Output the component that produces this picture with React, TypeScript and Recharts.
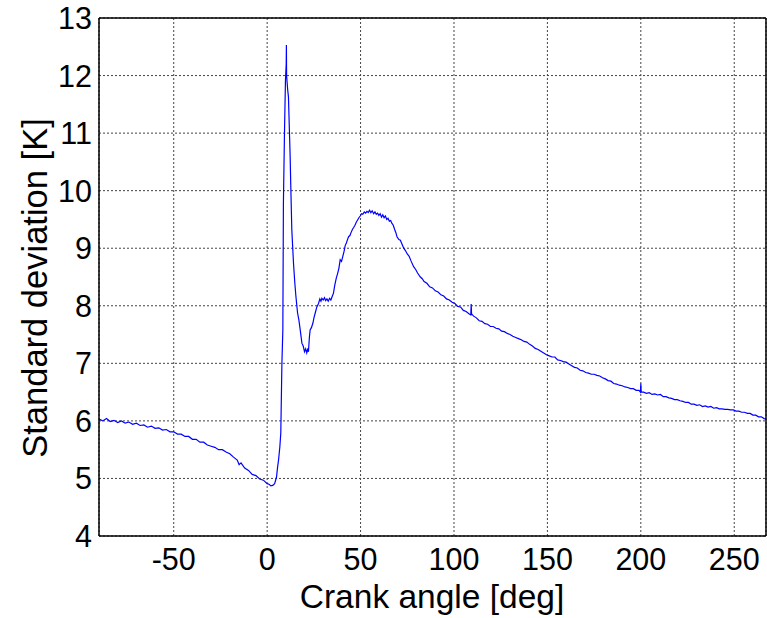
import React from "react";
import { LineChart, Line, XAxis, YAxis, CartesianGrid } from "recharts";

const angleLeft = [-90,-88,-86,-84,-82,-80,-78,-76,-74,-72,-70,-68,-66,-64,-62,-60,-58,-56,-54,-52,-50,-48,-46,-44,-42,-40,-38,-36,-34,-32,-30,-28,-26,-24,-22,-20,-18,-16,-15,-14,-12,-10,-8,-6,-4,-2,0,1,2,3,4];
const stdLeft = [6.03,6.00,6.04,5.99,6.01,5.97,6.00,5.96,5.98,5.94,5.96,5.92,5.93,5.89,5.91,5.87,5.88,5.84,5.85,5.81,5.81,5.77,5.77,5.73,5.73,5.68,5.68,5.63,5.63,5.58,5.56,5.54,5.50,5.50,5.46,5.43,5.37,5.32,5.24,5.27,5.18,5.14,5.07,5.05,4.99,4.97,4.91,4.90,4.87,4.88,4.91];

const anglePeak = [5,5.6,6.1,6.8,7.3,7.7,7.9,8.4,8.7,9.3,9.8,10.2,10.3,10.4,11.0,11.4,12.0,12.3,12.7,13.2,14.1,14.8,15.4,16.3,17.0,17.7,18.6,19.3,20.0,20.6,21.2,21.8,22.1,22.6,23.0,23.7,24.5,25.1,25.7,26.6,27.5,28.2,28.8,29.3,30,30.7,31.3,32,32.7,33.4,34.1,34.8,35.5,36.2,37,37.7,38.4,39.1,39.8,40.5,41.2,41.8,42.4,43,43.6,44.3,45,45.7,46.3,47,47.7,48.4,49.1,49.8,50.5,51.2,52,52.7,53.4,54.1,54.8,55.5,56.2,57,57.7,58.4,59.1,59.8,60.5,61.2,61.9,62.6,63.3,64,64.7,65.4,66.1,66.8,67.5,68.2,68.9,69.5];
const stdPeak = [5.02,5.20,5.32,5.55,5.79,6.6,7.0,7.58,9.78,11.05,11.92,12.2,12.53,12.0,11.75,11.63,10.94,10.6,10.01,9.32,8.74,8.40,8.16,7.87,7.75,7.58,7.35,7.30,7.20,7.25,7.18,7.26,7.20,7.45,7.58,7.62,7.70,7.80,7.87,7.98,8.04,8.12,8.08,8.13,8.10,8.14,8.09,8.12,8.08,8.13,8.10,8.16,8.22,8.36,8.48,8.56,8.65,8.80,8.77,8.86,8.95,9.05,9.09,9.15,9.20,9.22,9.28,9.33,9.36,9.40,9.45,9.49,9.53,9.56,9.60,9.59,9.63,9.61,9.64,9.62,9.66,9.62,9.65,9.60,9.63,9.59,9.61,9.57,9.60,9.54,9.58,9.53,9.56,9.50,9.52,9.47,9.48,9.43,9.40,9.33,9.27,9.20];

const angleTail = [70.5,71.3,72.2,73.1,74,75,76,77,78.4,79.5,80.5,82,83,84,85.5,87,88.5,90,91.5,93,94.5,96,97.5,99,100.5,102,103.5,105,106.5,108,109,109.2,109.4,110.5,112,113.5,115,116.5,118,119.5,121,122.5,124,125.5,127,128.5,130,131.5,133,134.5,136,137.5,139,140.5,142,143.5,145,146.5,148,149.5,151,152.5,154,155.5,157,158.5,160,161.5,163,164.5,166,167.5,169,170.5,172,173.5,175,176.5,178,179.5,181,182.5,184,185.5,187,188.5,190,191.5,193,194.5,196,197.5,199,199.8,200,200.2,201.5,203,204.5,206,207.5,209,210.5,212,213.5,215,216.5,218,219.5,221,222.5,224,225.5,227,228.5,230,231.5,233,234.5,236,237.5,239,240.5,242,243.5,245,246.5,248,249.5,251,252.5,254,255.5,257,258.5,260,261.5,263,264.5,266,267];
const stdTail = [9.15,9.14,9.07,9.00,8.96,8.90,8.86,8.78,8.68,8.63,8.57,8.50,8.47,8.42,8.39,8.33,8.31,8.26,8.24,8.19,8.17,8.12,8.10,8.06,8.04,7.99,7.98,7.92,7.90,7.86,7.84,8.03,7.86,7.82,7.79,7.74,7.73,7.69,7.68,7.64,7.64,7.61,7.60,7.56,7.55,7.52,7.50,7.47,7.45,7.43,7.41,7.38,7.37,7.33,7.30,7.26,7.24,7.21,7.18,7.15,7.13,7.11,7.11,7.06,7.05,7.03,7.02,6.99,6.96,6.93,6.92,6.88,6.87,6.84,6.83,6.81,6.81,6.79,6.78,6.75,6.73,6.70,6.69,6.65,6.64,6.62,6.61,6.59,6.58,6.56,6.56,6.53,6.53,6.50,6.65,6.50,6.50,6.48,6.49,6.46,6.47,6.45,6.46,6.42,6.42,6.40,6.39,6.37,6.37,6.35,6.34,6.32,6.32,6.29,6.29,6.27,6.28,6.25,6.26,6.24,6.25,6.22,6.23,6.21,6.21,6.20,6.20,6.19,6.19,6.17,6.17,6.15,6.15,6.13,6.13,6.10,6.10,6.07,6.07,6.04,6.03];

const xTicks = [-50, 0, 50, 100, 150, 200, 250];
const yTicks = [4, 5, 6, 7, 8, 9, 10, 11, 12, 13];
const xLabel = "Crank angle [deg]";
const yLabel = "Standard deviation [K]";

const angles = [...angleLeft, ...anglePeak, ...angleTail];
const stds = [...stdLeft, ...stdPeak, ...stdTail];
const data = angles.map((a, i) => ({ angle: a, std: stds[i] }));

const FONT = "'Liberation Sans', Arial, sans-serif";

const XTick = (props: any) => {
  const { x, payload } = props;
  return (
    <text x={x} y={570} textAnchor="middle" fontSize={30.5} fontFamily={FONT} fill="#000">
      {payload.value}
    </text>
  );
};

const YTick = (props: any) => {
  const { y, payload } = props;
  return (
    <text x={92} y={y + 11} textAnchor="end" fontSize={30.5} fontFamily={FONT} fill="#000">
      {payload.value}
    </text>
  );
};

export default function App() {
  return (
    <div style={{ position: "absolute", left: 0, top: 0, width: 767, height: 618, background: "#fff" }}>
      <LineChart
        width={767}
        height={618}
        data={data}
        margin={{ top: 0, right: 0, bottom: 0, left: 0 }}
      >
        <CartesianGrid stroke="#444" strokeDasharray="2 2" strokeWidth={1} />
        <XAxis
          dataKey="angle"
          type="number"
          domain={[-90, 267]}
          ticks={xTicks}
          height={82}
          tickLine={false}
          axisLine={{ stroke: "#000", strokeWidth: 1.5 }}
          tick={<XTick />}
          interval={0}
          allowDataOverflow
        />
        <XAxis
          xAxisId="t"
          orientation="top"
          dataKey="angle"
          type="number"
          domain={[-90, 267]}
          ticks={xTicks}
          height={18}
          tick={false}
          tickLine={false}
          axisLine={{ stroke: "#000", strokeWidth: 1.5 }}
          allowDataOverflow
        />
        <YAxis
          type="number"
          domain={[4, 13]}
          ticks={yTicks}
          width={99}
          tickLine={false}
          axisLine={{ stroke: "#000", strokeWidth: 1.5 }}
          tick={<YTick />}
          interval={0}
          allowDataOverflow
        />
        <YAxis
          yAxisId="r"
          orientation="right"
          type="number"
          domain={[4, 13]}
          ticks={yTicks}
          width={1}
          tick={false}
          tickLine={false}
          axisLine={{ stroke: "#000", strokeWidth: 1.5 }}
          allowDataOverflow
        />
        <Line
          dataKey="std"
          type="linear"
          stroke="#0000ff"
          strokeWidth={1.2}
          dot={false}
          isAnimationActive={false}
        />
        <text x={432} y={608} textAnchor="middle" fontSize={33.5} fontFamily={FONT} fill="#000">
          {xLabel}
        </text>
        <text
          x={47}
          y={288}
          textAnchor="middle"
          fontSize={34.5}
          fontFamily={FONT}
          fill="#000"
          transform="rotate(-90 47 288)"
        >
          {yLabel}
        </text>
      </LineChart>
    </div>
  );
}
